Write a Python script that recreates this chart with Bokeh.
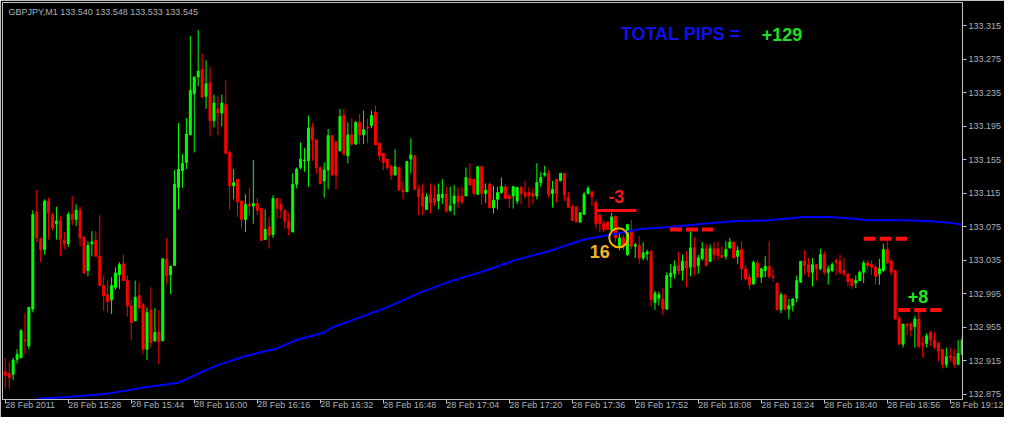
from bokeh.plotting import figure
from bokeh.models import FixedTicker, Label, ColumnDataSource, Range1d, NumeralTickFormatter
from bokeh.embed import file_html
from bokeh.resources import INLINE

# ---- data (GBPJPY, M1, 28 Feb 2011 15:12 .. 19:15) ----
opens = [
132.902,132.900,132.899,132.917,132.919,132.940,132.933,132.977,133.093,133.061,
133.048,133.106,133.090,133.079,133.083,133.059,133.055,133.090,133.084,133.095,
133.063,133.023,133.055,133.059,133.040,133.005,132.994,132.988,133.003,133.018,
133.031,133.011,132.981,132.963,132.993,132.982,132.929,132.976,132.939,132.949,
132.939,133.037,133.018,133.029,133.122,133.142,133.152,133.185,133.234,133.254,
133.263,133.231,133.247,133.202,133.216,133.211,133.221,133.164,133.124,133.132,
133.106,133.084,133.102,133.100,133.103,133.097,133.060,133.075,133.066,133.109,
133.102,133.095,133.082,133.069,133.126,133.146,133.154,133.154,133.194,133.179,
133.146,133.130,133.143,133.184,133.177,133.166,133.208,133.160,133.185,133.174,
133.200,133.185,133.194,133.196,133.212,133.175,133.163,133.156,133.147,133.137,
133.146,133.119,133.117,133.156,133.160,133.120,133.115,133.096,133.114,133.109,
133.106,133.110,133.114,133.095,133.103,133.112,133.112,133.112,133.133,133.132,
133.114,133.147,133.115,133.126,133.098,133.108,133.116,133.123,133.112,133.112,
133.106,133.122,133.116,133.116,133.115,133.112,133.128,133.137,133.139,133.115,
133.132,133.130,133.139,133.110,133.099,133.099,133.081,133.090,133.115,133.117,
133.104,133.089,133.079,133.081,133.071,133.088,133.053,133.062,133.042,133.071,
133.052,133.053,133.038,133.043,133.046,132.985,132.990,132.989,132.977,133.016,
133.019,133.029,133.023,133.034,133.027,133.050,133.029,133.037,133.049,133.034,
133.049,133.049,133.041,133.040,133.050,133.057,133.040,133.048,133.025,133.015,
133.007,133.032,133.015,133.023,133.028,133.016,133.008,132.976,132.994,132.977,
132.981,132.990,133.009,133.034,133.030,133.021,133.030,133.025,133.042,133.021,
133.023,133.035,133.034,133.023,133.019,133.013,133.008,133.011,133.021,133.032,
133.030,133.027,133.019,133.023,133.048,133.034,133.023,132.966,132.935,132.959,
132.959,132.956,132.965,132.936,132.936,132.949,132.940,132.936,132.929,132.911,
132.921,132.920,132.911,132.923]

highs = [
132.918,132.914,132.919,132.929,132.953,132.972,132.979,133.095,133.119,133.062,
133.108,133.110,133.092,133.099,133.088,133.069,133.093,133.112,133.102,133.099,
133.063,133.058,133.070,133.070,133.089,133.017,133.011,133.015,133.027,133.033,
133.042,133.017,132.988,133.011,133.008,132.984,132.979,133.003,132.978,132.976,
133.037,133.062,133.029,133.143,133.199,133.162,133.205,133.303,133.254,133.310,
133.282,133.274,133.266,133.233,133.231,133.233,133.250,133.166,133.144,133.132,
133.106,133.114,133.122,133.155,133.110,133.097,133.096,133.087,133.113,133.109,
133.109,133.095,133.092,133.139,133.146,133.176,133.169,133.208,133.199,133.179,
133.146,133.152,133.192,133.184,133.177,133.216,133.216,133.200,133.205,133.201,
133.210,133.214,133.204,133.214,133.220,133.175,133.163,133.156,133.150,133.168,
133.146,133.129,133.153,133.181,133.160,133.125,133.127,133.115,133.127,133.125,
133.127,133.132,133.123,133.123,133.125,133.122,133.123,133.146,133.151,133.132,
133.147,133.147,133.127,133.128,133.124,133.123,133.134,133.126,133.115,133.124,
133.123,133.124,133.130,133.123,133.121,133.151,133.141,133.148,133.143,133.130,
133.132,133.139,133.139,133.117,133.102,133.099,133.092,133.117,133.124,133.117,
133.108,133.092,133.083,133.081,133.092,133.088,133.067,133.065,133.078,133.083,
133.056,133.064,133.057,133.048,133.046,132.999,132.998,133.002,133.021,133.031,
133.035,133.045,133.042,133.046,133.070,133.063,133.042,133.057,133.055,133.054,
133.057,133.058,133.052,133.058,133.062,133.057,133.052,133.058,133.029,133.019,
133.035,133.035,133.026,133.040,133.058,133.025,133.008,132.997,132.994,132.989,
132.990,133.017,133.034,133.047,133.038,133.038,133.030,133.049,133.046,133.029,
133.033,133.038,133.042,133.038,133.019,133.013,133.017,133.023,133.035,133.035,
133.035,133.030,133.037,133.055,133.058,133.037,133.023,132.969,132.959,132.960,
132.961,132.969,132.975,132.944,132.948,132.951,132.949,132.938,132.929,132.931,
132.931,132.929,132.940,132.944]

lows = [
132.882,132.882,132.892,132.912,132.918,132.923,132.929,132.973,133.057,133.033,
133.042,133.060,133.071,133.060,133.040,133.048,133.051,133.077,133.076,133.052,
133.020,133.016,133.040,133.040,133.005,132.975,132.973,132.971,133.000,133.001,
133.011,132.968,132.940,132.963,132.978,132.923,132.916,132.931,132.938,132.911,
132.939,133.006,132.995,133.029,133.096,133.122,133.144,133.185,133.164,133.243,
133.230,133.216,133.183,133.194,133.185,133.195,133.163,133.096,133.108,133.087,
133.073,133.069,133.089,133.079,133.089,133.059,133.060,133.049,133.062,133.085,
133.085,133.073,133.065,133.069,133.121,133.144,133.141,133.123,133.154,133.139,
133.126,133.110,133.120,133.137,133.120,133.165,133.160,133.151,133.172,133.173,
133.174,133.174,133.175,133.193,133.173,133.154,133.143,133.143,133.131,133.137,
133.119,133.108,133.117,133.139,133.120,133.089,133.089,133.095,133.091,133.100,
133.096,133.102,133.092,133.093,133.089,133.098,133.102,133.112,133.125,133.112,
133.114,133.102,133.104,133.098,133.091,133.096,133.115,133.109,133.098,133.097,
133.102,133.102,133.109,133.098,133.102,133.108,133.123,133.135,133.110,133.098,
133.104,133.130,133.106,133.098,133.083,133.081,133.080,133.090,133.114,133.100,
133.073,133.069,133.069,133.072,133.070,133.057,133.047,133.047,133.040,133.048,
133.038,133.031,133.035,133.035,132.980,132.976,132.981,132.970,132.976,133.002,
133.013,133.018,133.011,133.003,133.016,133.017,133.019,133.035,133.029,133.033,
133.035,133.035,133.038,133.036,133.049,133.038,133.031,133.011,133.011,133.000,
133.006,133.014,133.008,133.015,133.013,133.010,132.976,132.972,132.975,132.965,
132.974,132.985,133.009,133.018,133.015,133.004,133.011,133.023,133.018,133.006,
133.021,133.017,133.018,133.016,133.004,133.001,133.002,133.011,133.008,133.024,
133.018,133.006,133.006,133.021,133.031,133.017,132.965,132.935,132.931,132.946,
132.944,132.931,132.931,132.919,132.931,132.933,132.929,132.915,132.906,132.907,
132.914,132.907,132.911,132.923]

closes = [
132.898,132.895,132.916,132.923,132.951,132.939,132.979,133.090,133.062,133.048,
133.106,133.092,133.074,133.082,133.060,133.055,133.090,133.084,133.095,133.062,
133.020,133.053,133.057,133.040,133.005,132.993,132.986,133.005,133.020,133.030,
133.011,132.981,132.961,132.991,132.978,132.929,132.973,132.937,132.949,132.938,
133.037,133.017,133.028,133.126,133.144,133.151,133.186,133.238,133.254,133.261,
133.230,133.246,133.202,133.223,133.211,133.223,133.163,133.124,133.128,133.105,
133.084,133.102,133.100,133.103,133.095,133.059,133.072,133.065,133.109,133.097,
133.095,133.082,133.073,133.126,133.144,133.156,133.155,133.193,133.179,133.146,
133.127,133.143,133.184,133.137,133.137,133.207,133.162,133.185,133.174,133.200,
133.185,133.191,133.193,133.208,133.173,133.160,133.152,133.146,133.137,133.147,
133.119,133.117,133.153,133.161,133.120,133.111,133.100,133.111,133.104,133.104,
133.114,133.114,133.094,133.100,133.112,133.105,133.105,133.134,133.125,133.115,
133.147,133.115,133.119,133.098,133.107,133.116,133.123,133.109,133.109,133.123,
133.122,133.115,133.112,133.112,133.112,133.128,133.134,133.139,133.114,133.120,
133.115,133.139,133.114,133.098,133.083,133.081,133.092,133.114,133.121,133.111,
133.079,133.079,133.072,133.072,133.087,133.062,133.062,133.052,133.078,133.052,
133.054,133.038,133.044,133.045,132.988,132.996,132.994,132.977,133.017,133.020,
133.028,133.023,133.034,133.026,133.050,133.027,133.038,133.049,133.029,133.049,
133.042,133.041,133.039,133.048,133.057,133.038,133.047,133.025,133.013,133.006,
133.033,133.015,133.025,133.028,133.016,133.015,132.976,132.994,132.977,132.981,
132.989,133.011,133.034,133.029,133.021,133.030,133.025,133.042,133.021,133.025,
133.030,133.033,133.021,133.019,133.010,133.005,133.011,133.021,133.032,133.029,
133.027,133.016,133.025,133.048,133.032,133.021,132.965,132.935,132.959,132.957,
132.952,132.965,132.932,132.934,132.945,132.940,132.932,132.927,132.911,132.920,
132.919,132.911,132.924,132.940]

# moving average (read at candle indices)
ma_idx = [8, 16, 26, 36, 44, 49, 54, 61, 69, 74, 81, 83, 97, 105, 113, 122, 130, 138,
          147, 155, 162, 169, 178, 186, 194, 203, 209, 215, 219, 228, 234, 240, 243]
ma_val = [132.870, 132.872, 132.876, 132.884, 132.889, 132.900, 132.910, 132.921,
          132.930, 132.940, 132.949, 132.955, 132.979, 132.996, 133.010, 133.023,
          133.036, 133.046, 133.060, 133.067, 133.073, 133.075, 133.079, 133.082,
          133.083, 133.087, 133.087, 133.085, 133.083, 133.083, 133.082, 133.080, 133.078]

time_tick_idx = [0, 16, 32, 48, 64, 80, 96, 112, 128, 144, 160, 176, 192, 208, 224, 240]
time_labels = ["28 Feb 2011", "28 Feb 15:28", "28 Feb 15:44", "28 Feb 16:00", "28 Feb 16:16",
               "28 Feb 16:32", "28 Feb 16:48", "28 Feb 17:04", "28 Feb 17:20", "28 Feb 17:36",
               "28 Feb 17:52", "28 Feb 18:08", "28 Feb 18:24", "28 Feb 18:40", "28 Feb 18:56",
               "28 Feb 19:12"]
price_ticks = [132.875, 132.915, 132.955, 132.995, 133.035, 133.075, 133.115,
               133.155, 133.195, 133.235, 133.275, 133.315]

header_text = "GBPJPY,M1  133.540 133.548 133.533 133.545"
total_pips = "+129"
trade_loss = "-3"
trade_gain = "+8"
trade_count = "16"
loss_level = 133.0946
entry_levels = [133.072, 133.061, 132.976]

# ---- figure ----
FG = "#aab2ba"
FONT = "Liberation Sans"
X0, X1 = -0.7, 243.1
Y0, Y1 = 132.869, 133.343

n = len(opens)
xs = list(range(n))
colors = ["#00ff00" if c >= o else "#ff0000" for o, c in zip(opens, closes)]
src = ColumnDataSource(dict(
    x=xs, h=highs, l=lows,
    top=[max(o, c) for o, c in zip(opens, closes)],
    bottom=[min(o, c) for o, c in zip(opens, closes)],
    color=colors))

p = figure(width=1004, height=417, output_backend="svg", toolbar_location=None, tools="",
           x_range=Range1d(X0, X1), y_range=Range1d(Y0, Y1),
           y_axis_location="right",
           background_fill_color="#000000", border_fill_color="#000000",
           outline_line_color="#c0c0c0", outline_line_width=1,
           min_border_left=2, min_border_top=2, min_border_right=0, min_border_bottom=0)
p.grid.visible = False

p.segment(x0="x", y0="l", x1="x", y1="h", line_color="color", line_width=1, source=src)
p.vbar(x="x", top="top", bottom="bottom", width=0.5, fill_color="color",
       line_color="color", line_width=1, source=src)

p.line(ma_idx, ma_val, line_color="#0000ff", line_width=2)

# trade annotations
p.segment(x0=[150.1], y0=[loss_level], x1=[160.3], y1=[loss_level],
          line_color="#ff1010", line_width=3)
for (a, b), lvl in zip([(168.8, 179.8), (218.0, 229.0), (226.8, 237.8)], entry_levels):
    p.segment(x0=[a], y0=[lvl], x1=[b], y1=[lvl], line_color="#ff1010",
              line_width=4, line_dash="12 4")
p.scatter([155.8], [133.062], marker="circle", size=19, fill_alpha=0,
          line_color="#f2b400", line_width=2)

def lab(x, y, text, color, size="18px", style="bold", align="center", base="middle"):
    p.add_layout(Label(x=x, y=y, text=text, text_color=color, text_font=FONT,
                       text_font_size=size, text_font_style=style,
                       text_align=align, text_baseline=base))

lab(155.2, 133.111, trade_loss, "#f01818")
lab(151.0, 133.046, trade_count, "#f2b428")
lab(231.8, 132.992, trade_gain, "#22e822")
lab(156.3, 133.305, "TOTAL PIPS =", "#1010e8", align="left")
lab(192.1, 133.305, total_pips, "#20e020", align="left")
lab(0.8, 133.332, header_text, FG, size="9px", style="normal", align="left")

# axes
ya = p.yaxis[0]
ya.ticker = FixedTicker(ticks=price_ticks)
ya.formatter = NumeralTickFormatter(format="0.000")
xa = p.xaxis[0]
xa.ticker = FixedTicker(ticks=time_tick_idx)
xa.major_label_overrides = {t: s for t, s in zip(time_tick_idx, time_labels)}
# a tiny negative angle makes the below-axis labels start at their tick (left aligned)
xa.major_label_orientation = -1e-6
for ax in (xa, ya):
    ax.axis_line_color = "#c0c0c0"
    ax.major_tick_line_color = "#c0c0c0"
    ax.minor_tick_line_color = None
    ax.major_tick_in = 0
    ax.major_tick_out = 4
    ax.major_label_text_color = FG
    ax.major_label_text_font = FONT
    ax.major_label_text_font_size = "9px"
    ax.major_label_text_line_height = 1.0
    ax.major_label_standoff = 2
xa.major_label_standoff = 1

open("out.html", "w").write(file_html(p, INLINE))
